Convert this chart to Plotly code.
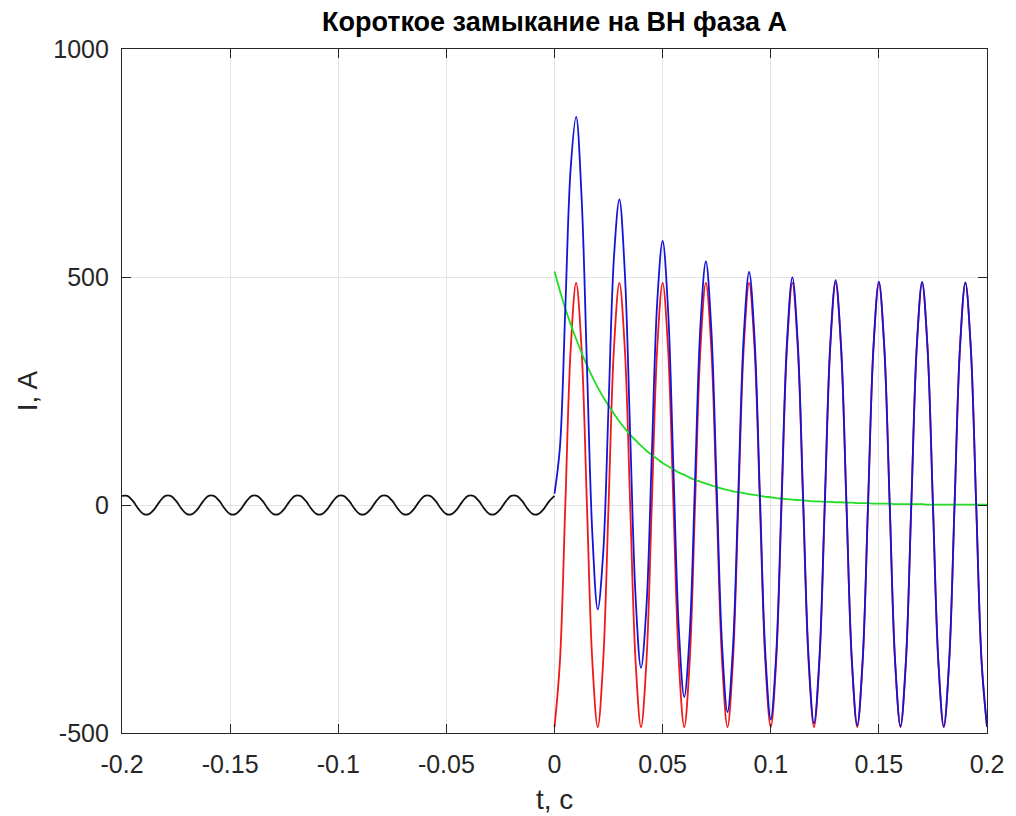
import plotly.graph_objects as go

# time grids (s)
t_pre = [-0.2, -0.1975, -0.195, -0.1925, -0.19, -0.1875, -0.185, -0.1825, -0.18, -0.1775,
         -0.175, -0.1725, -0.17, -0.1675, -0.165, -0.1625, -0.16, -0.1575, -0.155, -0.1525,
         -0.15, -0.1475, -0.145, -0.1425, -0.14, -0.1375, -0.135, -0.1325, -0.13, -0.1275,
         -0.125, -0.1225, -0.12, -0.1175, -0.115, -0.1125, -0.11, -0.1075, -0.105, -0.1025,
         -0.1, -0.0975, -0.095, -0.0925, -0.09, -0.0875, -0.085, -0.0825, -0.08, -0.0775,
         -0.075, -0.0725, -0.07, -0.0675, -0.065, -0.0625, -0.06, -0.0575, -0.055, -0.0525,
         -0.05, -0.0475, -0.045, -0.0425, -0.04, -0.0375, -0.035, -0.0325, -0.03, -0.0275,
         -0.025, -0.0225, -0.02, -0.0175, -0.015, -0.0125, -0.01, -0.0075, -0.005, -0.0025, 0]
t_fault = [0, 0.0025, 0.005, 0.0075, 0.01, 0.0125, 0.015, 0.0175, 0.02, 0.0225,
           0.025, 0.0275, 0.03, 0.0325, 0.035, 0.0375, 0.04, 0.0425, 0.045, 0.0475,
           0.05, 0.0525, 0.055, 0.0575, 0.06, 0.0625, 0.065, 0.0675, 0.07, 0.0725,
           0.075, 0.0775, 0.08, 0.0825, 0.085, 0.0875, 0.09, 0.0925, 0.095, 0.0975,
           0.1, 0.1025, 0.105, 0.1075, 0.11, 0.1125, 0.115, 0.1175, 0.12, 0.1225,
           0.125, 0.1275, 0.13, 0.1325, 0.135, 0.1375, 0.14, 0.1425, 0.145, 0.1475,
           0.15, 0.1525, 0.155, 0.1575, 0.16, 0.1625, 0.165, 0.1675, 0.17, 0.1725,
           0.175, 0.1775, 0.18, 0.1825, 0.185, 0.1875, 0.19, 0.1925, 0.195, 0.1975, 0.2]

# pre-fault load current (A)
i_pre = [20, 20, 9, -8, -20, -20, -9, 8,
         20, 20, 9, -8, -20, -20, -9, 8,
         20, 20, 9, -8, -20, -20, -9, 8,
         20, 20, 9, -8, -20, -20, -9, 8,
         20, 20, 9, -8, -20, -20, -9, 8,
         20, 20, 9, -8, -20, -20, -9, 8,
         20, 20, 9, -8, -20, -20, -9, 8,
         20, 20, 9, -8, -20, -20, -9, 8,
         20, 20, 9, -8, -20, -20, -9, 8,
         20, 20, 9, -8, -20, -20, -9, 8,
         20]

# periodic component (A)
i_periodic = [-487, -344, 0, 344, 487, 344, 0, -344,
              -487, -344, 0, 344, 487, 344, 0, -344,
              -487, -344, 0, 344, 487, 344, 0, -344,
              -487, -344, 0, 344, 487, 344, 0, -344,
              -487, -344, 0, 344, 487, 344, 0, -344,
              -487, -344, 0, 344, 487, 344, 0, -344,
              -487, -344, 0, 344, 487, 344, 0, -344,
              -487, -344, 0, 344, 487, 344, 0, -344,
              -487, -344, 0, 344, 487, 344, 0, -344,
              -487, -344, 0, 344, 487, 344, 0, -344,
              -487]

# aperiodic component (A)
i_aperiodic = [512, 470, 431, 396, 364, 334, 306, 281, 258, 237,
               218, 200, 183, 168, 154, 142, 130, 119, 110, 101,
               92, 85, 78, 71, 66, 60, 55, 51, 47, 43,
               39, 36, 33, 30, 28, 26, 24, 22, 20, 18,
               17, 15, 14, 13, 12, 11, 10, 9, 8, 8,
               7, 7, 6, 6, 5, 5, 4, 4, 4, 3,
               3, 3, 3, 2, 2, 2, 2, 2, 2, 1,
               1, 1, 1, 1, 1, 1, 1, 1, 1, 1, 1]

# total short-circuit current (A)
i_total = [25, 126, 431, 740, 851, 678, 306, -63,
           -229, -107, 218, 544, 670, 512, 154, -202,
           -357, -225, 110, 445, 579, 429, 78, -273,
           -421, -284, 55, 395, 534, 387, 39, -308,
           -454, -314, 28, 370, 511, 366, 20, -326,
           -470, -329, 14, 357, 499, 355, 10, -335,
           -479, -336, 7, 351, 493, 350, 5, -339,
           -483, -340, 4, 347, 490, 347, 3, -342,
           -485, -342, 2, 346, 489, 345, 1, -343,
           -486, -343, 1, 345, 488, 345, 1, -343,
           -486]

x_ticks = [-0.2, -0.15, -0.1, -0.05, 0, 0.05, 0.1, 0.15, 0.2]
x_ticklabels = ['-0.2', '-0.15', '-0.1', '-0.05', '0', '0.05', '0.1', '0.15', '0.2']
y_ticks = [-500, 0, 500, 1000]
y_ticklabels = ['-500', '0', '500', '1000']

FONT = "Liberation Sans, Arial, Helvetica, sans-serif"
AX = '#262626'
LW = 1.8

fig = go.Figure()
fig.add_trace(go.Scatter(x=t_pre, y=i_pre, mode='lines',
                         line=dict(color='#111111', width=LW, shape='spline')))
fig.add_trace(go.Scatter(x=t_fault, y=i_periodic, mode='lines',
                         line=dict(color='#f01818', width=LW, shape='spline')))
fig.add_trace(go.Scatter(x=t_fault, y=i_aperiodic, mode='lines',
                         line=dict(color='#22dd22', width=LW, shape='spline')))
fig.add_trace(go.Scatter(x=t_fault, y=i_total, mode='lines',
                         line=dict(color='#1414d8', width=LW, shape='spline')))

axis_common = dict(
    ticks='inside', ticklen=9, tickwidth=1, tickcolor=AX,
    showline=True, linecolor=AX, linewidth=1.2, mirror='ticks',
    showgrid=True, gridcolor='#e4e4e4', gridwidth=1, zeroline=False,
    tickfont=dict(family=FONT, size=25, color=AX),
)

fig.update_layout(
    width=1016, height=816,
    margin=dict(l=122, r=27, t=49, b=83),
    paper_bgcolor='white', plot_bgcolor='white',
    showlegend=False,
    title=dict(text='<b>Короткое замыкание на ВН фаза А</b>',
               font=dict(family=FONT, size=27, color='black'),
               x=0.5, xref='paper', xanchor='center',
               y=1 - 22 / 816, yref='container', yanchor='middle'),
    xaxis=dict(range=[-0.2, 0.2], tickvals=x_ticks, ticktext=x_ticklabels,
               ticklabelstandoff=9, **axis_common),
    yaxis=dict(range=[-500, 1000], tickvals=y_ticks, ticktext=y_ticklabels,
               ticklabelstandoff=7, **axis_common),
    annotations=[
        dict(text='t, c', xref='paper', yref='paper', x=0.5, y=(733 - 800) / 684,
             xanchor='center', yanchor='middle', showarrow=False,
             font=dict(family=FONT, size=28, color=AX)),
        dict(text='I, A', xref='paper', yref='paper', x=(27 - 122) / 867, y=0.5,
             xanchor='center', yanchor='middle', showarrow=False, textangle=-90,
             font=dict(family=FONT, size=28, color=AX)),
    ],
)

fig.write_html("out.html")
